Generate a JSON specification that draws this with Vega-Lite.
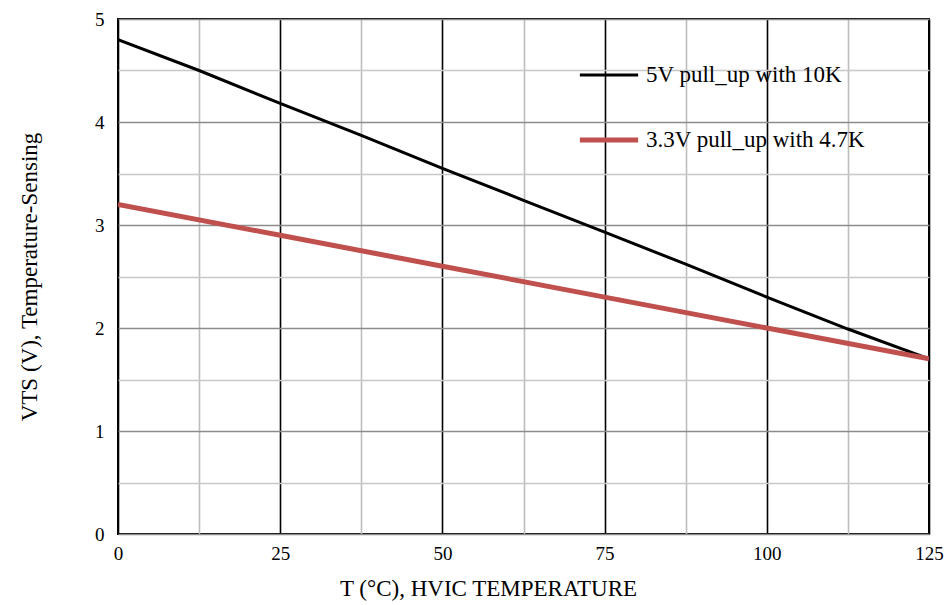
{
  "$schema": "https://vega.github.io/schema/vega-lite/v6.json",
  "width": 811,
  "height": 515,
  "autosize": "none",
  "padding": {"left": 118, "top": 19, "right": 15, "bottom": 71},
  "background": "white",
  "config": {
    "font": "Liberation Serif",
    "view": {"stroke": "black", "strokeWidth": 2}
  },
  "data": {
    "values": [
      {"T": 0, "V": 4.8, "series": "5V pull_up with 10K"},
      {"T": 12.5, "V": 4.5, "series": "5V pull_up with 10K"},
      {"T": 25, "V": 4.18, "series": "5V pull_up with 10K"},
      {"T": 37.5, "V": 3.87, "series": "5V pull_up with 10K"},
      {"T": 50, "V": 3.55, "series": "5V pull_up with 10K"},
      {"T": 62.5, "V": 3.24, "series": "5V pull_up with 10K"},
      {"T": 75, "V": 2.93, "series": "5V pull_up with 10K"},
      {"T": 87.5, "V": 2.62, "series": "5V pull_up with 10K"},
      {"T": 100, "V": 2.3, "series": "5V pull_up with 10K"},
      {"T": 112.5, "V": 1.99, "series": "5V pull_up with 10K"},
      {"T": 125, "V": 1.7, "series": "5V pull_up with 10K"},
      {"T": 0, "V": 3.2, "series": "3.3V pull_up with 4.7K"},
      {"T": 25, "V": 2.9, "series": "3.3V pull_up with 4.7K"},
      {"T": 50, "V": 2.6, "series": "3.3V pull_up with 4.7K"},
      {"T": 75, "V": 2.3, "series": "3.3V pull_up with 4.7K"},
      {"T": 100, "V": 2.0, "series": "3.3V pull_up with 4.7K"},
      {"T": 125, "V": 1.7, "series": "3.3V pull_up with 4.7K"}
    ]
  },
  "mark": {"type": "line", "clip": true},
  "encoding": {
    "x": {
      "field": "T",
      "type": "quantitative",
      "scale": {"domain": [0, 125], "nice": false, "zero": false},
      "axis": {
        "values": [0, 12.5, 25, 37.5, 50, 62.5, 75, 87.5, 100, 112.5, 125],
        "labelExpr": "datum.value % 25 === 0 ? format(datum.value, 'd') : ''",
        "labelFontSize": 19,
        "labelColor": "black",
        "labelPadding": 10,
        "labelFlush": false,
        "ticks": false,
        "domain": false,
        "grid": true,
        "gridColor": {"condition": {"test": "datum.value % 25 === 0", "value": "black"}, "value": "#bdbdbd"},
        "gridWidth": 1.6,
        "gridOpacity": 1,
        "title": "T (°C), HVIC TEMPERATURE",
        "titleFontSize": 23,
        "titleFontWeight": "normal",
        "titleColor": "black",
        "titlePadding": 14,
        "titleX": 370,
        "titleAlign": "center"
      }
    },
    "y": {
      "field": "V",
      "type": "quantitative",
      "scale": {"domain": [0, 5], "nice": false},
      "axis": {
        "values": [0, 0.5, 1, 1.5, 2, 2.5, 3, 3.5, 4, 4.5, 5],
        "labelExpr": "datum.value % 1 === 0 ? format(datum.value, 'd') : ''",
        "labelFontSize": 19,
        "labelColor": "black",
        "labelPadding": 14,
        "ticks": false,
        "domain": false,
        "grid": true,
        "gridColor": {"condition": {"test": "datum.value % 1 === 0", "value": "#8c8c8c"}, "value": "#c8c8c8"},
        "gridWidth": 1.6,
        "gridOpacity": 1,
        "title": "VTS (V), Temperature-Sensing",
        "titleFontSize": 23,
        "titleFontWeight": "normal",
        "titleColor": "black",
        "titlePadding": 53
      }
    },
    "color": {
      "field": "series",
      "type": "nominal",
      "scale": {
        "domain": ["5V pull_up with 10K", "3.3V pull_up with 4.7K"],
        "range": ["black", "#c0504d"]
      },
      "legend": {
        "title": null,
        "orient": "none",
        "legendX": 459,
        "legendY": 25,
        "symbolType": "stroke",
        "symbolSize": 3400,
        "symbolStrokeWidth": 4,
        "labelFontSize": 23,
        "labelColor": "black",
        "labelOffset": 5,
        "rowPadding": 21,
        "labelLimit": 400
      }
    },
    "strokeWidth": {
      "field": "series",
      "type": "nominal",
      "scale": {
        "domain": ["5V pull_up with 10K", "3.3V pull_up with 4.7K"],
        "range": [3, 5]
      },
      "legend": null
    }
  }
}
